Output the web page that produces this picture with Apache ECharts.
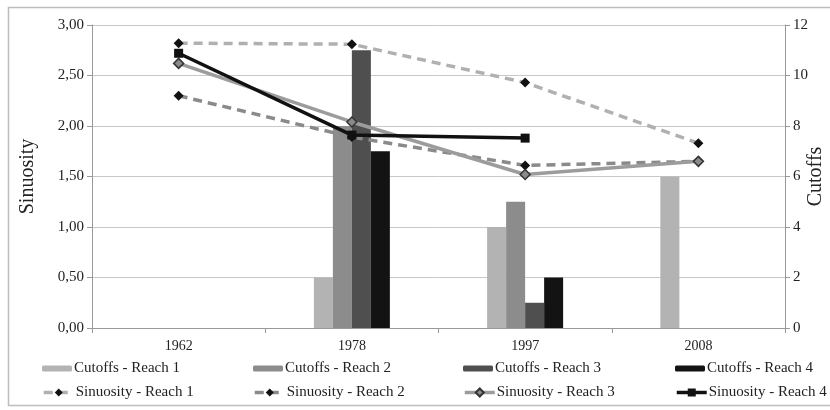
<!DOCTYPE html>
<html>
<head>
<meta charset="utf-8">
<script src="https://cdn.jsdelivr.net/npm/echarts@6/dist/echarts.min.js"></script>
<style>
  html, body { margin: 0; padding: 0; background: #fff; overflow: hidden; }
  #chart { width: 830px; height: 410px; }
</style>
</head>
<body>
<div id="chart"></div>
<script>
// Survey years
const years = ['1962', '1978', '1997', '2008'];

// Number of cutoffs per reach (right axis)
const cutoffsReach1 = [null, 2, 4, 6];
const cutoffsReach2 = [null, 8, 5, null];
const cutoffsReach3 = [null, 11, 1, null];
const cutoffsReach4 = [null, 7, 2, null];

// Sinuosity per reach (left axis)
const sinuosityReach1 = [2.82, 2.81, 2.43, 1.83];
const sinuosityReach2 = [2.30, 1.89, 1.61, 1.65];
const sinuosityReach3 = [2.62, 2.04, 1.52, 1.65];
const sinuosityReach4 = [2.72, 1.91, 1.88, null];

// Axis tick labels
const sinuosityTicks = ['0,00', '0,50', '1,00', '1,50', '2,00', '2,50', '3,00'];
const cutoffTicks = ['0', '2', '4', '6', '8', '10', '12'];

const FONT = '"Liberation Serif", "Times New Roman", serif';

const barColors = ['#b3b3b3', '#8c8c8c', '#4f4f4f', '#131313'];

function barSeries(name, data, color) {
  return {
    name, type: 'bar', yAxisIndex: 1, data,
    barWidth: 19, barGap: '0%',
    itemStyle: { color },
    z: 2
  };
}

function lineSeries(name, data, opts) {
  return {
    name, type: 'line', yAxisIndex: 0, data,
    symbol: opts.symbol, symbolSize: opts.symbolSize,
    showAllSymbol: true,
    lineStyle: { color: opts.color, width: 3.5, type: opts.dash ? [9, 6] : 'solid' },
    itemStyle: { color: opts.markerFill, borderColor: opts.markerBorder, borderWidth: opts.markerBorderWidth || 0 },
    z: opts.z
  };
}

const series = [
  barSeries('Cutoffs - Reach 1', cutoffsReach1, barColors[0]),
  barSeries('Cutoffs - Reach 2', cutoffsReach2, barColors[1]),
  barSeries('Cutoffs - Reach 3', cutoffsReach3, barColors[2]),
  barSeries('Cutoffs - Reach 4', cutoffsReach4, barColors[3]),
  lineSeries('Sinuosity - Reach 1', sinuosityReach1, { color: '#b0b0b0', dash: true, symbol: 'diamond', symbolSize: 10, markerFill: '#111', markerBorder: '#111', z: 5 }),
  lineSeries('Sinuosity - Reach 2', sinuosityReach2, { color: '#8a8a8a', dash: true, symbol: 'diamond', symbolSize: 10, markerFill: '#111', markerBorder: '#111', z: 5 }),
  lineSeries('Sinuosity - Reach 3', sinuosityReach3, { color: '#9c9c9c', dash: false, symbol: 'diamond', symbolSize: 10, markerFill: '#8a8a8a', markerBorder: '#333', markerBorderWidth: 1.5, z: 6 }),
  lineSeries('Sinuosity - Reach 4', sinuosityReach4, { color: '#111', dash: false, symbol: 'rect', symbolSize: 9, markerFill: '#111', markerBorder: '#111', z: 7 })
];

// One legend per entry so the four columns line up
const legendCols = [42, 253, 463, 675];
const legendRows = [361, 385];
const legends = series.map((s, i) => ({
  data: [s.name],
  left: legendCols[i % 4],
  top: legendRows[Math.floor(i / 4)],
  orient: 'horizontal',
  itemWidth: 30,
  itemHeight: i < 4 ? 6 : 10,
  itemGap: 0,
  lineStyle: { width: 3.5 },
  textStyle: { fontFamily: FONT, fontSize: 15, color: '#222', padding: [0, 0, 0, -3] },
  selectedMode: false,
  padding: 0
}));

const option = {
  animation: false,
  backgroundColor: '#fff',
  graphic: [{
    type: 'rect',
    shape: { x: 8.5, y: 7.5, width: 840, height: 398 },
    style: { fill: 'none', stroke: '#bdbdbd', lineWidth: 1.5 },
    silent: true
  }],
  legend: legends,
  grid: { left: 92, right: 45, top: 25, bottom: 82, containLabel: false, outerBoundsMode: 'none' },
  xAxis: {
    type: 'category', data: years, boundaryGap: true,
    axisLine: { lineStyle: { color: '#999' } },
    axisTick: { show: true, alignWithLabel: false, length: 5, lineStyle: { color: '#999' } },
    axisLabel: { fontFamily: FONT, fontSize: 14, color: '#222', margin: 11 }
  },
  yAxis: [{
    type: 'value', min: 0, max: 3, interval: 0.5,
    name: 'Sinuosity', nameLocation: 'middle', nameGap: 54, nameRotate: 90,
    nameMoveOverlap: false,
    nameTextStyle: { fontFamily: FONT, fontSize: 20, color: '#222' },
    axisLine: { show: true, lineStyle: { color: '#999' } },
    axisTick: { show: true, length: 5, lineStyle: { color: '#999' } },
    axisLabel: {
      fontFamily: FONT, fontSize: 15, color: '#222', margin: 8,
      formatter: v => sinuosityTicks[Math.round(v / 0.5)]
    },
    splitLine: { show: true, lineStyle: { color: '#c8c8c8', width: 1 } }
  }, {
    type: 'value', min: 0, max: 12, interval: 2, position: 'right',
    name: 'Cutoffs', nameLocation: 'middle', nameGap: 21, nameRotate: 90,
    nameMoveOverlap: false,
    nameTextStyle: { fontFamily: FONT, fontSize: 20, color: '#222' },
    axisLine: { show: true, lineStyle: { color: '#999' } },
    axisTick: { show: true, length: 5, lineStyle: { color: '#999' } },
    axisLabel: {
      fontFamily: FONT, fontSize: 15, color: '#222', margin: 8,
      formatter: v => cutoffTicks[Math.round(v / 2)]
    },
    splitLine: { show: false }
  }],
  series
};

const chart = echarts.init(document.getElementById('chart'), null, { renderer: 'canvas' });
chart.setOption(option);
</script>
</body>
</html>
